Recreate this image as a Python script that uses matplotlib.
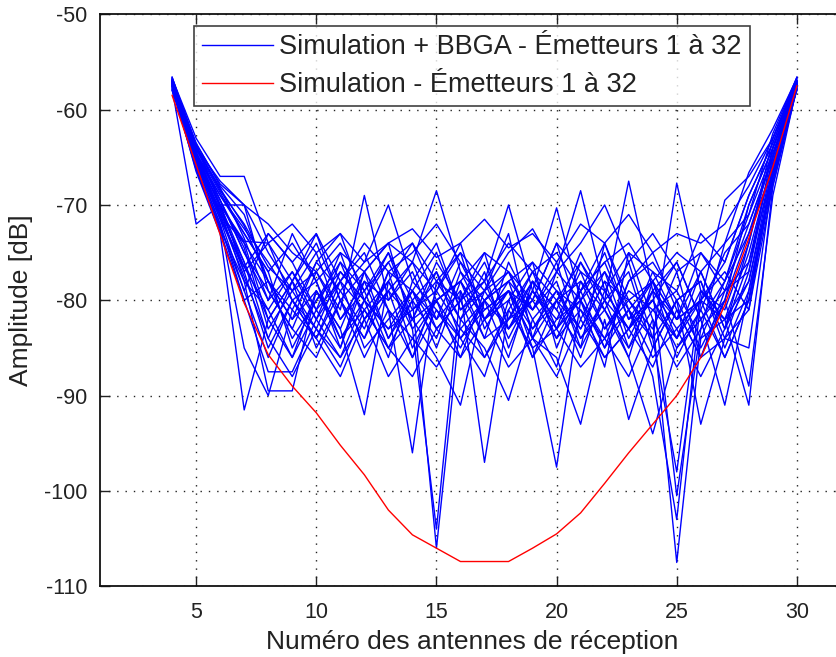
import matplotlib
matplotlib.use("Agg")
import matplotlib.pyplot as plt
import numpy as np

plt.rcParams['font.family'] = ['Liberation Sans', 'DejaVu Sans']
plt.rcParams['axes.unicode_minus'] = False

antennas = list(range(4, 31))

red_sim = [-58.5, -65.8, -73.1, -80.3, -85.7, -89.0, -91.8, -95.2, -98.3, -102.0,
           -104.6, -106.0, -107.4, -107.4, -107.4, -106.0, -104.5, -102.3, -99.2,
           -96.0, -93.0, -90.0, -86.0, -80.5, -73.5, -66.0, -57.5]

blue_1 = [-57.0,-64.0,-68.5,-72.0,-76.5,-79.0,-75.0,-82.0,-78.0,-84.0,-80.0,-106.0,-82.0,-77.0,-85.0,-79.0,-83.0,-76.0,-80.0,-86.0,-78.0,-82.0,-75.0,-79.0,-72.0,-65.0,-57.5]
blue_2 = [-57.5,-64.5,-69.5,-75.0,-80.0,-73.0,-78.0,-85.0,-77.0,-74.0,-83.0,-104.0,-79.0,-84.0,-76.0,-81.0,-78.0,-85.0,-74.0,-80.0,-83.0,-77.0,-86.0,-80.0,-70.0,-64.0,-57.0]
blue_3 = [-56.8,-63.5,-68.0,-71.0,-78.0,-82.0,-76.0,-73.0,-80.0,-86.0,-78.0,-74.0,-81.0,-79.0,-73.0,-84.0,-77.0,-80.0,-87.0,-75.0,-82.0,-107.5,-84.0,-78.0,-73.0,-66.0,-57.2]
blue_4 = [-57.3,-65.0,-70.0,-77.0,-74.0,-80.0,-84.0,-78.0,-75.0,-81.0,-86.0,-79.0,-74.0,-82.0,-78.0,-76.0,-85.0,-79.0,-74.0,-81.0,-88.0,-103.0,-80.0,-76.0,-69.0,-63.5,-56.8]
blue_5 = [-57.0,-65.5,-71.0,-74.0,-82.0,-78.0,-73.0,-80.0,-84.0,-77.0,-79.0,-85.0,-78.0,-75.0,-83.0,-80.0,-74.0,-82.0,-77.0,-84.0,-79.0,-100.5,-83.0,-74.0,-71.0,-64.5,-57.5]
blue_6 = [-58.0,-64.5,-69.0,-73.0,-77.0,-85.0,-80.0,-76.0,-82.0,-78.0,-74.0,-80.0,-86.0,-79.0,-77.0,-82.0,-87.0,-78.0,-81.0,-76.0,-84.0,-98.0,-79.0,-82.0,-75.0,-65.5,-58.0]
blue_7 = [-56.6,-64.0,-67.5,-70.0,-75.0,-79.0,-83.0,-77.0,-80.0,-75.0,-82.0,-77.0,-84.0,-80.0,-78.0,-85.0,-97.5,-80.0,-75.0,-82.0,-78.0,-84.0,-77.0,-83.0,-74.0,-63.0,-56.6]
blue_8 = [-57.6,-65.2,-71.5,-79.0,-73.0,-76.0,-81.0,-85.0,-78.0,-80.0,-76.0,-82.0,-79.0,-97.0,-81.0,-77.0,-83.0,-79.0,-85.0,-78.0,-75.0,-81.0,-86.0,-79.0,-76.0,-66.5,-57.8]
blue_9 = [-57.2,-63.7,-70.0,-76.0,-84.0,-78.0,-74.0,-80.0,-86.0,-81.0,-96.0,-78.0,-75.0,-83.0,-79.0,-81.0,-76.0,-84.0,-80.0,-77.0,-85.0,-80.0,-78.0,-84.0,-77.0,-64.0,-57.3]
blue_10 = [-56.9,-66.0,-72.5,-78.0,-81.0,-86.0,-79.0,-83.0,-92.0,-78.0,-82.0,-76.0,-80.0,-78.0,-84.0,-79.0,-82.0,-77.0,-83.0,-80.0,-78.0,-86.0,-81.0,-75.0,-72.0,-65.0,-57.0]
blue_11 = [-57.4,-66.5,-73.0,-91.5,-82.0,-78.0,-85.0,-80.0,-77.0,-84.0,-79.0,-82.0,-76.0,-81.0,-79.0,-86.0,-80.0,-83.0,-78.0,-85.0,-81.0,-79.0,-84.0,-82.0,-78.0,-67.0,-57.6]
blue_12 = [-57.1,-65.5,-72.0,-85.0,-90.0,-81.0,-76.0,-79.0,-83.0,-77.0,-85.0,-80.0,-78.0,-84.0,-82.0,-77.0,-80.0,-86.0,-79.0,-83.0,-77.0,-82.0,-80.0,-86.0,-80.0,-66.0,-57.1]
blue_13 = [-56.7,-63.0,-67.0,-67.0,-74.0,-78.0,-82.0,-76.0,-79.0,-75.0,-80.0,-84.0,-77.0,-80.0,-86.0,-78.0,-81.0,-75.0,-80.0,-83.0,-79.0,-76.0,-82.0,-78.0,-71.0,-62.5,-56.6]
blue_14 = [-57.8,-72.0,-70.0,-70.0,-79.0,-83.0,-77.0,-81.0,-69.0,-80.0,-77.0,-83.0,-80.0,-76.0,-82.0,-78.0,-84.0,-79.0,-76.0,-82.0,-80.0,-84.0,-79.0,-81.0,-74.0,-64.0,-57.9]
blue_15 = [-57.0,-64.7,-69.0,-72.5,-76.0,-80.0,-84.0,-79.0,-76.0,-70.0,-78.0,-81.0,-85.0,-80.0,-77.0,-83.0,-79.0,-81.0,-84.0,-78.0,-76.0,-80.0,-85.0,-80.0,-73.0,-64.8,-57.4]
blue_16 = [-57.5,-64.1,-68.2,-73.5,-80.0,-77.0,-81.0,-75.0,-82.0,-79.0,-76.0,-68.5,-77.0,-82.0,-79.0,-84.0,-80.0,-76.0,-81.0,-85.0,-79.0,-82.0,-77.0,-83.0,-76.0,-65.0,-57.0]
blue_17 = [-56.8,-64.9,-70.0,-74.0,-78.0,-84.0,-80.0,-77.0,-80.0,-83.0,-79.0,-75.0,-81.0,-78.0,-70.0,-79.0,-83.0,-80.0,-77.0,-81.0,-84.0,-80.0,-78.0,-85.0,-79.0,-67.0,-57.3]
blue_18 = [-57.3,-64.4,-71.0,-77.0,-85.0,-80.0,-78.0,-84.0,-80.0,-76.0,-81.0,-79.0,-83.0,-80.0,-78.0,-81.0,-77.0,-68.5,-79.0,-83.0,-80.0,-76.0,-82.0,-79.0,-77.0,-65.5,-57.5]
blue_19 = [-57.0,-65.7,-72.0,-80.0,-87.5,-87.5,-82.0,-78.0,-81.0,-85.0,-80.0,-77.0,-82.0,-79.0,-83.0,-78.0,-81.0,-85.0,-80.0,-67.5,-79.0,-83.0,-80.0,-77.0,-81.0,-66.0,-57.2]
blue_20 = [-57.6,-65.1,-70.5,-78.0,-89.5,-89.5,-79.0,-83.0,-77.0,-81.0,-84.0,-80.0,-78.0,-82.0,-80.0,-76.0,-79.0,-83.0,-78.0,-80.0,-84.0,-67.7,-79.0,-82.0,-80.0,-66.5,-57.4]
blue_21 = [-57.1,-63.9,-69.5,-75.0,-79.0,-83.0,-86.0,-80.0,-84.0,-79.0,-82.0,-86.0,-91.0,-80.0,-83.0,-79.0,-70.3,-80.0,-84.0,-81.0,-78.0,-82.0,-80.0,-69.5,-67.0,-63.0,-56.9]
blue_22 = [-57.4,-64.5,-70.3,-76.5,-81.0,-77.0,-82.0,-86.0,-80.0,-83.0,-81.0,-78.0,-82.0,-85.0,-90.5,-82.0,-79.0,-84.0,-81.0,-86.0,-94.0,-85.0,-81.0,-86.0,-80.0,-67.5,-57.7]
blue_23 = [-56.9,-64.6,-69.5,-74.5,-83.0,-79.0,-77.0,-82.0,-79.0,-85.0,-82.0,-80.0,-84.0,-81.0,-79.0,-84.0,-86.0,-93.0,-82.0,-92.5,-85.0,-80.0,-93.0,-84.0,-81.0,-68.0,-57.1]
blue_24 = [-57.2,-65.3,-70.7,-76.0,-82.0,-86.0,-81.0,-78.0,-85.0,-82.0,-79.0,-83.0,-80.0,-86.0,-82.0,-80.0,-84.0,-81.0,-86.0,-83.0,-80.0,-85.0,-82.0,-91.0,-79.0,-67.0,-57.3]
blue_25 = [-57.7,-66.3,-72.8,-80.0,-78.0,-82.0,-79.0,-84.0,-81.0,-78.0,-83.0,-80.0,-78.0,-82.0,-79.0,-83.0,-80.0,-78.0,-83.0,-79.0,-81.0,-84.0,-80.0,-82.0,-91.0,-68.0,-57.8]
blue_26 = [-57.0,-64.2,-68.7,-73.0,-77.0,-74.0,-78.0,-75.0,-77.0,-74.0,-76.0,-79.0,-75.0,-78.0,-74.0,-77.0,-75.0,-79.0,-76.0,-74.0,-78.0,-75.0,-77.0,-74.0,-66.6,-62.0,-56.7]
blue_27 = [-57.5,-64.8,-70.0,-73.8,-74.0,-72.0,-75.0,-73.0,-76.0,-74.0,-72.5,-75.5,-74.0,-71.5,-74.5,-73.0,-76.0,-72.0,-74.0,-71.0,-75.0,-73.0,-74.0,-72.0,-68.0,-63.0,-57.0]
blue_28 = [-56.8,-65.4,-71.5,-76.5,-73.0,-76.0,-73.0,-78.0,-74.0,-77.0,-75.0,-72.0,-76.0,-79.0,-75.0,-72.5,-77.0,-74.0,-70.0,-76.0,-73.0,-77.0,-75.0,-78.0,-70.0,-64.0,-57.4]
blue_29 = [-57.3,-63.6,-67.8,-70.0,-72.0,-75.0,-77.0,-74.0,-79.0,-76.0,-74.0,-78.0,-80.0,-75.0,-77.0,-80.0,-74.0,-77.0,-79.0,-75.0,-77.0,-79.0,-73.0,-76.0,-69.0,-63.5,-57.2]
blue_30 = [-57.9,-66.1,-72.3,-79.0,-86.0,-80.0,-83.0,-87.0,-81.0,-85.0,-88.0,-83.0,-86.0,-82.0,-87.0,-84.0,-88.0,-82.0,-86.0,-83.0,-87.0,-81.0,-86.0,-84.0,-85.0,-67.0,-57.9]
blue_31 = [-57.2,-65.0,-71.2,-77.5,-84.0,-88.0,-83.0,-86.0,-82.0,-88.0,-84.0,-87.0,-83.0,-86.0,-81.0,-85.0,-83.0,-87.0,-84.0,-88.0,-82.0,-87.0,-83.0,-80.0,-89.0,-69.0,-57.6]
blue_32 = [-56.6,-63.8,-68.3,-72.2,-78.0,-81.0,-84.0,-88.0,-82.0,-79.0,-86.0,-81.0,-84.0,-88.0,-80.0,-86.0,-82.0,-80.0,-85.0,-81.0,-86.0,-83.0,-88.0,-83.0,-78.0,-66.0,-57.0]

blue_series = [blue_1, blue_2, blue_3, blue_4, blue_5, blue_6, blue_7, blue_8,
               blue_9, blue_10, blue_11, blue_12, blue_13, blue_14, blue_15, blue_16,
               blue_17, blue_18, blue_19, blue_20, blue_21, blue_22, blue_23, blue_24,
               blue_25, blue_26, blue_27, blue_28, blue_29, blue_30, blue_31, blue_32]

xticks = [5, 10, 15, 20, 25, 30]
yticks = [-110, -100, -90, -80, -70, -60, -50]
label_blue = "Simulation + BBGA - Émetteurs 1 à 32"
label_red = "Simulation - Émetteurs 1 à 32"

fig = plt.figure(figsize=(8.37, 6.57), dpi=100)
ax = fig.add_axes([0.1195, 0.1076, 0.890, 0.8706])

blue_handles = []
for s in blue_series:
    h, = ax.plot(antennas, s, color='#0000ff', lw=1.0)
    blue_handles.append(h)
red_h, = ax.plot(antennas, red_sim, color='#ff0000', lw=1.0)

ax.set_xlim(1, 32)
ax.set_ylim(-110, -50)
ax.set_xticks(xticks)
ax.set_yticks(yticks)
ax.tick_params(direction='in', length=7, width=1, top=True, right=True,
               labelsize=15.5, colors='#222222', pad=9)
ax.tick_params(axis='x', pad=11)
for sp in ax.spines.values():
    sp.set_linewidth(1.3)
    sp.set_color('#111111')
ax.grid(True, color='#222222', linestyle=(0, (1, 5)), lw=1.0)
ax.set_axisbelow(True)

ax.set_xlabel("Numéro des antennes de réception", fontsize=19, color='#222222', labelpad=5)
ax.set_ylabel("Amplitude [dB]", fontsize=19, color='#222222', labelpad=8)

leg = fig.legend([blue_handles[0], red_h], [label_blue, label_red],
                 loc='upper left', bbox_to_anchor=(194/837, 1 - 26/657),
                 fontsize=19.5, frameon=True, fancybox=False, edgecolor='#111111',
                 handlelength=2.6, handletextpad=0.25, borderpad=0.3,
                 labelspacing=0.45, borderaxespad=0.0)
leg.get_frame().set_linewidth(1.2)
for t in leg.get_texts():
    t.set_color('#222222')

fig.savefig("out.png", dpi=100, facecolor='white')
